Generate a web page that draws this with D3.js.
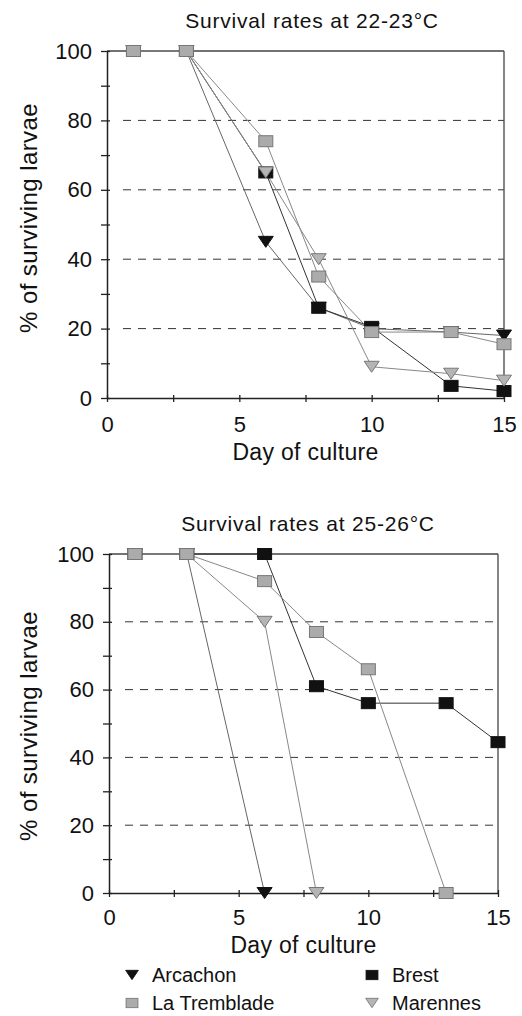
<!DOCTYPE html>
<html>
<head>
<meta charset="utf-8">
<script src="https://cdn.jsdelivr.net/npm/d3@7"></script>
<style>
  body { margin: 0; background: #fff; }
  text { font-family: "Liberation Sans", Arial, sans-serif; fill: #111; }
</style>
</head>
<body>
<div id="chart"></div>
<script>
// days sampled
var days = [1, 3, 6, 8, 10, 13, 15];

// 22-23°C
var arcachon22 = [100, 100, 45, 26, 20, 19, 18];
var brest22 = [100, 100, 65, 26, 20.5, 3.5, 2];
var tremblade22 = [100, 100, 74, 35, 19, 19, 15.5];
var marennes22 = [100, 100, 65, 40, 9, 7, 5];

// 25-26°C
var days25 = [1, 3, 6, 8, 10, 13, 15];
var arcachon25 = [100, 100, 0];
var arcachonDays25 = [1, 3, 6];
var brest25 = [100, 100, 100, 61, 56, 56, 44.5];
var tremblade25 = [100, 100, 92, 77, 66, 0];
var trembladeDays25 = [1, 3, 6, 8, 10, 13];
var marennes25 = [100, 100, 80, 0];
var marennesDays25 = [1, 3, 6, 8];

var xTicks = [0, 2.5, 5, 7.5, 10, 12.5, 15];
var yTicks = [0, 10, 20, 30, 40, 50, 60, 70, 80, 90, 100];
var gridValues = [20, 40, 60, 80];

var svgWidth = 522, svgHeight = 1016;

var svg = d3.select("#chart").append("svg")
  .attr("width", svgWidth)
  .attr("height", svgHeight);

// marker styles per station
var styles = {
  "Arcachon": {shape: "tri", fill: "#111", stroke: "#111", line: "#666"},
  "Brest": {shape: "sq", fill: "#111", stroke: "#111", line: "#333"},
  "La Tremblade": {shape: "sq", fill: "#ababab", stroke: "#777", line: "#888"},
  "Marennes": {shape: "tri", fill: "#b5b5b5", stroke: "#777", line: "#888"}
};

function drawMarker(g, shape, st) {
  if (shape == "sq") {
    return g.append("rect")
      .attr("x", -7).attr("y", -5.5)
      .attr("width", 14).attr("height", 11)
      .attr("fill", st.fill).attr("stroke", st.stroke).attr("stroke-width", 1);
  } else {
    return g.append("path")
      .attr("d", "M-7.5,-5.5L7.5,-5.5L0,5.5Z")
      .attr("fill", st.fill).attr("stroke", st.stroke).attr("stroke-width", 1);
  }
}

function panel(opts) {
  var x = d3.scaleLinear().domain([0, 15]).range([opts.left, opts.right]);
  var y = d3.scaleLinear().domain([0, 100]).range([opts.bottom, opts.top]);

  // title
  svg.append("text")
    .attr("x", opts.titleX).attr("y", opts.titleY)
    .attr("text-anchor", "middle")
    .style("font-size", "21px")
    .style("letter-spacing", "0.8px")
    .text(opts.title);

  // dashed grid
  svg.append("g").selectAll("line").data(gridValues).enter()
    .append("line")
    .attr("x1", opts.left + 16).attr("x2", opts.right)
    .attr("y1", d => y(d)).attr("y2", d => y(d))
    .attr("stroke", "#333").attr("stroke-width", 1)
    .attr("stroke-dasharray", "8,7");

  // frame top and right
  svg.append("line")
    .attr("x1", opts.left).attr("x2", opts.right)
    .attr("y1", y(100)).attr("y2", y(100))
    .attr("stroke", "#444").attr("stroke-width", 1.3);
  svg.append("line")
    .attr("x1", opts.right).attr("x2", opts.right)
    .attr("y1", y(100)).attr("y2", y(0))
    .attr("stroke", "#444").attr("stroke-width", 1.3);

  // axes
  var bottomAxis = d3.axisBottom(x)
    .tickValues(xTicks)
    .tickSize(4)
    .tickSizeOuter(0)
    .tickFormat(d => d % 5 == 0 ? d : "");
  var gx = svg.append("g")
    .attr("transform", `translate(0, ${y(0)})`)
    .call(bottomAxis);
  gx.select(".domain").attr("stroke", "#222").attr("stroke-width", 1.5);
  gx.selectAll(".tick line").attr("y1", -3).attr("y2", 4).attr("stroke", "#222").attr("stroke-width", 1.3);
  gx.selectAll(".tick text").attr("y", opts.tickPad).style("font-size", "22px").attr("fill", "#111");

  var leftAxis = d3.axisLeft(y)
    .tickValues(yTicks)
    .tickSize(5)
    .tickSizeOuter(0)
    .tickFormat(d => d % 20 == 0 ? d : "");
  var gy = svg.append("g")
    .attr("transform", `translate(${opts.left}, 0)`)
    .call(leftAxis);
  gy.select(".domain").attr("stroke", "#222").attr("stroke-width", 1.5);
  gy.selectAll(".tick line").attr("x1", 3).attr("x2", -6).attr("stroke", "#222").attr("stroke-width", 1.3);
  gy.selectAll(".tick text").attr("x", -15).style("font-size", "22px").attr("fill", "#111");

  // axis titles
  svg.append("text")
    .attr("x", (opts.left + opts.right) / 2).attr("y", opts.xLabelY)
    .attr("text-anchor", "middle")
    .style("font-size", "23px")
    .style("letter-spacing", "0.3px")
    .text("Day of culture");
  svg.append("text")
    .attr("transform", `translate(37, ${opts.yLabelY}) rotate(-90)`)
    .attr("text-anchor", "middle")
    .style("font-size", "24px")
    .style("letter-spacing", "0.4px")
    .text("% of surviving larvae");

  // series
  var line = d3.line().x(d => x(d[0])).y(d => y(d[1]));
  opts.series.forEach(function(s) {
    var pts = s.days.map((d, i) => [d, s.values[i]]);
    svg.append("path")
      .datum(pts)
      .attr("d", line)
      .attr("fill", "none")
      .attr("stroke", styles[s.name].line)
      .attr("stroke-width", 1);
  });
  opts.series.forEach(function(s) {
    var st = styles[s.name];
    var pts = s.days.map((d, i) => [d, s.values[i]]);
    pts.forEach(function(p) {
      var g = svg.append("g").attr("transform", `translate(${x(p[0])}, ${y(p[1])})`);
      drawMarker(g, st.shape, st);
    });
  });
}

panel({
  title: "Survival rates at 22-23°C", titleX: 312, titleY: 28,
  left: 107, right: 504, top: 51, bottom: 398,
  tickPad: 18, xLabelY: 460, yLabelY: 218,
  series: [
    {name: "Arcachon", days: days, values: arcachon22},
    {name: "Brest", days: days, values: brest22},
    {name: "Marennes", days: days, values: marennes22},
    {name: "La Tremblade", days: days, values: tremblade22}
  ]
});

panel({
  title: "Survival rates at 25-26°C", titleX: 308, titleY: 531,
  left: 109, right: 498, top: 554, bottom: 893,
  tickPad: 16, xLabelY: 953, yLabelY: 726,
  series: [
    {name: "Arcachon", days: arcachonDays25, values: arcachon25},
    {name: "Brest", days: days25, values: brest25},
    {name: "Marennes", days: marennesDays25, values: marennes25},
    {name: "La Tremblade", days: trembladeDays25, values: tremblade25}
  ]
});

// legend
var legendItems = [
  {name: "Arcachon", x: 132, y: 975},
  {name: "Brest", x: 372, y: 975},
  {name: "La Tremblade", x: 132, y: 1003},
  {name: "Marennes", x: 372, y: 1003}
];
legendItems.forEach(function(d) {
  var st = styles[d.name];
  var g = svg.append("g").attr("transform", `translate(${d.x}, ${d.y})`);
  drawMarker(g, st.shape, st).attr("transform", "scale(0.85)");
  svg.append("text")
    .attr("x", d.x + 20).attr("y", d.y + 7)
    .style("font-size", "20px")
    .text(d.name);
});
</script>
</body>
</html>
